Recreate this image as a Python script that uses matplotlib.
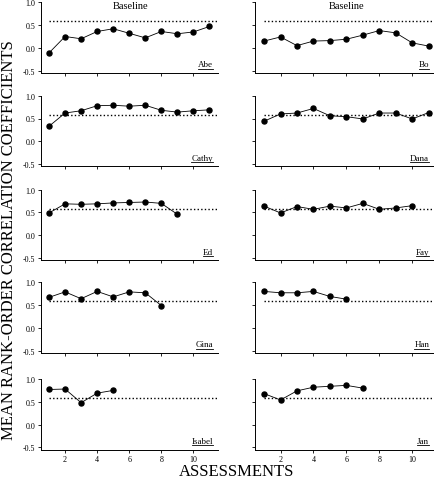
import numpy as np
import matplotlib
matplotlib.use('Agg')
import matplotlib.pyplot as plt
from matplotlib.lines import Line2D

plt.rcParams['font.family'] = ['Liberation Serif', 'DejaVu Serif']

# mean rank-order correlation per assessment, one list per child
names = ['Abe', 'Bo', 'Cathy', 'Dana', 'Ed', 'Fay', 'Gina', 'Han', 'Isabel', 'Jan']
abe = [-0.11, 0.25, 0.20, 0.36, 0.42, 0.32, 0.22, 0.36, 0.31, 0.35, 0.47]
bo = [0.15, 0.24, 0.05, 0.15, 0.16, 0.19, 0.28, 0.38, 0.33, 0.11, 0.04]
cathy = [0.33, 0.62, 0.67, 0.78, 0.79, 0.77, 0.79, 0.68, 0.64, 0.67, 0.69]
dana = [0.44, 0.60, 0.62, 0.72, 0.56, 0.54, 0.49, 0.62, 0.62, 0.49, 0.63]
ed = [0.49, 0.69, 0.68, 0.69, 0.71, 0.72, 0.73, 0.70, 0.46]
fay = [0.64, 0.49, 0.63, 0.57, 0.64, 0.60, 0.70, 0.57, 0.60, 0.65]
gina = [0.67, 0.79, 0.64, 0.80, 0.68, 0.79, 0.77, 0.49]
han = [0.80, 0.77, 0.77, 0.80, 0.69, 0.63]
isabel = [0.77, 0.78, 0.48, 0.69, 0.75]
jan = [0.68, 0.54, 0.74, 0.82, 0.84, 0.86, 0.80]
series = [abe, bo, cathy, dana, ed, fay, gina, han, isabel, jan]
criterion = 0.58

W, H = 434, 481
fig = plt.figure(figsize=(W / 100, H / 100), dpi=100)

row_tops = [3.3, 96.7, 190.7, 283.3, 380]   # pixel y of the 1.0 tick
px_per_unit = 45.6
ylo, yhi = -0.55, 1.0
cols = [(41, 176.5, 0.5, 11.5), (255, 178.6, 0.45, 11.3)]

axes = []
for i, (name, vals) in enumerate(zip(names, series)):
    r, c = divmod(i, 2)
    left, width, x0, x1 = cols[c]
    top = row_tops[r]
    height = (yhi - ylo) * px_per_unit
    ax = fig.add_axes([left / W, 1 - (top + height) / H, width / W, height / H])
    axes.append(ax)
    x = np.arange(1, len(vals) + 1)
    ax.plot(x, vals, color='black', lw=0.6, marker='o', ms=3.6, mfc='black', mec='black')
    ax.plot([1, x1], [criterion, criterion], color='black', lw=1.0, ls=(0, (1, 1.6)))
    ax.set_xlim(x0, x1)
    ax.set_ylim(ylo, yhi)
    ax.spines['top'].set_visible(False)
    ax.spines['right'].set_visible(False)
    for s in ['left', 'bottom']:
        ax.spines[s].set_linewidth(0.7)
    ax.set_xticks([2, 4, 6, 8, 10])
    ax.set_yticks([-0.5, 0.0, 0.5, 1.0])
    ax.tick_params(length=2.5, width=0.6, labelsize=5.8, pad=1.5, colors='black')
    if c == 0:
        ax.set_yticklabels(['-0.5', '0.0', '0.5', '1.0'])
    else:
        ax.set_yticklabels([])
    if r < 4:
        ax.set_xticklabels([])
    # x in axes fraction, y in data
    trans = ax.get_yaxis_transform()
    ax.text(0.975, -0.40, name, transform=trans, fontsize=6.5, ha='right', va='baseline')
    if r == 0:
        ax.text(0.51, 0.94, 'Baseline', transform=trans, fontsize=7.5,
                ha='center', va='center')

# underline the names
fig.canvas.draw()
renderer = fig.canvas.get_renderer()
for ax, name in zip(axes, names):
    for t in ax.texts:
        if t.get_text() == name:
            bb = t.get_window_extent(renderer)
            yline = bb.y0 - 0.5
            fig.add_artist(Line2D([bb.x0 / W, bb.x1 / W], [yline / H, yline / H],
                                  color='black', lw=0.6, transform=fig.transFigure))

fig.text(9 / W, 1 - 240 / H, 'MEAN RANK-ORDER CORRELATION COEFFICIENTS',
         rotation=90, ha='center', va='center', fontsize=12)
fig.text(237 / W, 1 - 472 / H, 'ASSESSMENTS', ha='center', va='center', fontsize=12)

fig.savefig('out.png', dpi=100)
